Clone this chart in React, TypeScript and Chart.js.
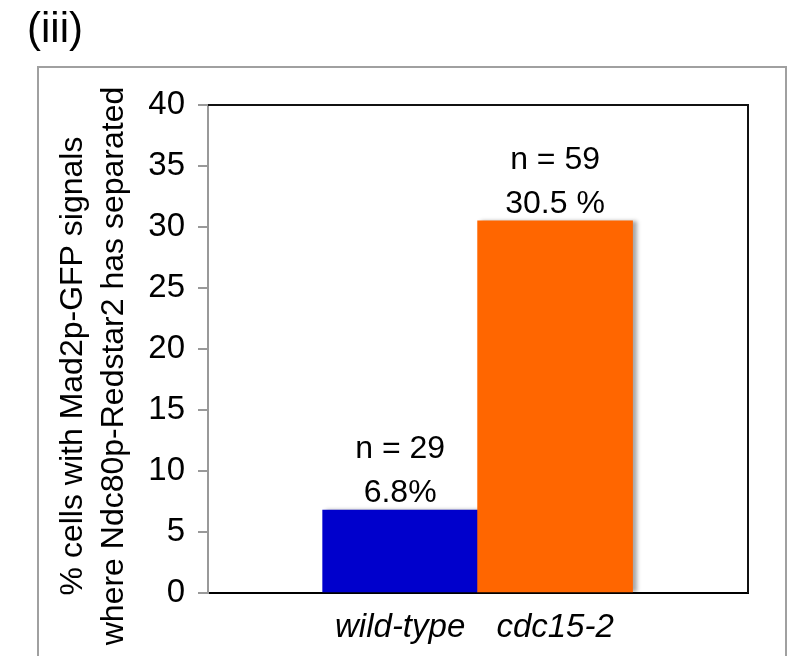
import React, { useEffect, useRef } from 'react';
import { Chart, registerables } from 'chart.js';

Chart.register(...registerables);

const categories = ['wild-type', 'cdc15-2'];
const values = [6.8, 30.5];
const sampleSizes = [29, 59];
const percentLabels = ['6.8%', '30.5 %'];
const barColors = ['#0000CC', '#FF6600'];
const yTitleLines = ['% cells with Mad2p-GFP signals', 'where Ndc80p-Redstar2 has separated'];
const panelLabel = '(iii)';
const yMin = 0;
const yMax = 40;
const yStep = 5;

const FONT = '"Liberation Sans", Arial, Helvetica, sans-serif';

const decorPlugin = {
  id: 'decor',
  beforeDraw(chart: any) {
    const ctx = chart.ctx;
    ctx.save();
    ctx.fillStyle = '#ffffff';
    ctx.fillRect(0, 0, chart.width, chart.height);
    ctx.strokeStyle = '#a0a0a0';
    ctx.lineWidth = 2;
    ctx.strokeRect(38, 67, 748, 700);
    ctx.fillStyle = '#000';
    ctx.font = `42px ${FONT}`;
    ctx.textAlign = 'left';
    ctx.textBaseline = 'alphabetic';
    ctx.fillText(panelLabel, 27, 42);
    ctx.restore();
  },
  beforeDatasetsDraw(chart: any) {
    const ctx = chart.ctx;
    ctx.save();
    ctx.shadowColor = 'rgba(0,0,0,0.35)';
    ctx.shadowBlur = 4;
    ctx.shadowOffsetX = 4;
    ctx.shadowOffsetY = 0;
  },
  afterDatasetsDraw(chart: any) {
    chart.ctx.restore();
  },
  afterDraw(chart: any) {
    const ctx = chart.ctx;
    const { left, right, top, bottom } = chart.chartArea;
    ctx.save();
    ctx.strokeStyle = '#111';
    ctx.lineWidth = 2;
    ctx.beginPath();
    ctx.moveTo(left, top);
    ctx.lineTo(right, top);
    ctx.lineTo(right, bottom);
    ctx.stroke();

    ctx.fillStyle = '#000';
    ctx.font = `32px ${FONT}`;
    ctx.textAlign = 'center';
    ctx.textBaseline = 'alphabetic';
    const meta = chart.getDatasetMeta(0);
    meta.data.forEach((bar: any, i: number) => {
      ctx.fillText(`n = ${sampleSizes[i]}`, bar.x, bar.y - 52);
      ctx.fillText(percentLabels[i], bar.x, bar.y - 8);
    });

    const yc = (top + bottom) / 2 + 17;
    ctx.font = `32px ${FONT}`;
    const xs = [82, 123];
    yTitleLines.forEach((line, i) => {
      ctx.save();
      ctx.translate(xs[i], yc);
      ctx.rotate(-Math.PI / 2);
      ctx.fillText(line, 0, 0);
      ctx.restore();
    });
    ctx.restore();
  },
};

export default function App() {
  const ref = useRef<HTMLCanvasElement>(null);
  useEffect(() => {
    if (!ref.current) return;
    const chart = new Chart(ref.current, {
      type: 'bar',
      data: {
        datasets: [
          {
            data: values.map((v, i) => ({ x: i, y: v })),
            backgroundColor: barColors,
            borderWidth: 0,
            barPercentage: 1,
            categoryPercentage: 1,
          },
        ],
      },
      options: {
        animation: false,
        responsive: false,
        layout: { padding: { left: 0, top: 105, right: 45, bottom: 0 } },
        plugins: { legend: { display: false }, tooltip: { enabled: false } },
        scales: {
          x: {
            type: 'linear',
            min: -1.24,
            max: 2.245,
            offset: false,
            grid: { display: false, drawTicks: false, offset: false },
            border: { display: true, color: '#000', width: 2 },
            afterBuildTicks: (s: any) => {
              s.ticks = categories.map((_, i) => ({ value: i }));
            },
            afterFit: (s: any) => {
              s.height = 63;
            },
            ticks: {
              autoSkip: false,
              maxRotation: 0,
              padding: 15,
              color: '#000',
              font: { family: FONT, size: 33, style: 'italic' },
              callback: (v: any) => categories[v] ?? '',
            },
          },
          y: {
            min: yMin,
            max: yMax,
            grid: { drawOnChartArea: false, drawTicks: true, tickLength: 10, color: '#999', lineWidth: 2 },
            border: { display: true, color: '#999', width: 2 },
            afterFit: (s: any) => {
              s.width = 208;
            },
            ticks: {
              stepSize: yStep,
              padding: 13,
              color: '#000',
              font: { family: FONT, size: 33 },
            },
          },
        },
      } as any,
      plugins: [decorPlugin],
    });
    return () => chart.destroy();
  }, []);
  return (
    <div style={{ position: 'fixed', left: 0, top: 0, width: 793, height: 656, overflow: 'hidden', background: '#fff' }}>
      <canvas ref={ref} width={793} height={656} style={{ width: 793, height: 656, display: 'block' }} />
    </div>
  );
}
